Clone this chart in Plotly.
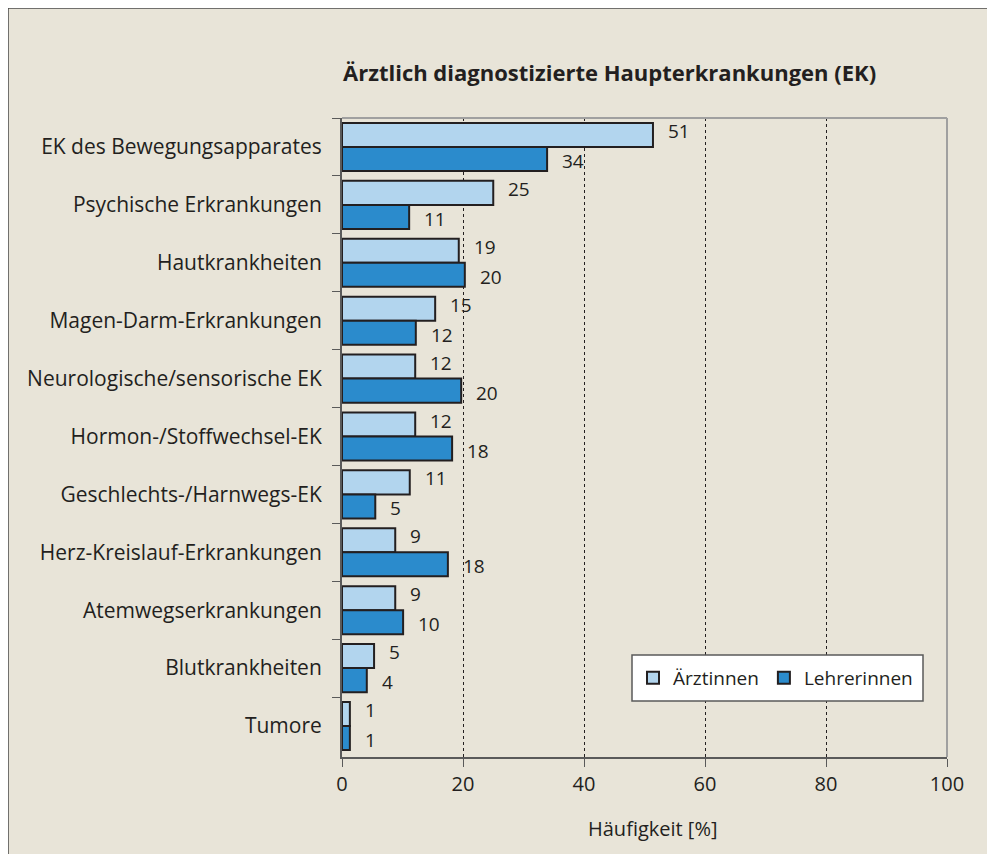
import plotly.graph_objects as go

categories = [
    "EK des Bewegungsapparates",
    "Psychische Erkrankungen",
    "Hautkrankheiten",
    "Magen-Darm-Erkrankungen",
    "Neurologische/sensorische EK",
    "Hormon-/Stoffwechsel-EK",
    "Geschlechts-/Harnwegs-EK",
    "Herz-Kreislauf-Erkrankungen",
    "Atemwegserkrankungen",
    "Blutkrankheiten",
    "Tumore",
]
aerztinnen = [51.4, 25.0, 19.3, 15.4, 12.1, 12.1, 11.2, 8.8, 8.8, 5.3, 1.3]
lehrerinnen = [33.9, 11.1, 20.3, 12.2, 19.7, 18.2, 5.5, 17.5, 10.1, 4.1, 1.3]
aerztinnen_labels = ["51", "25", "19", "15", "12", "12", "11", "9", "9", "5", "1"]
lehrerinnen_labels = ["34", "11", "20", "12", "20", "18", "5", "18", "10", "4", "1"]
x_ticks = [0, 20, 40, 60, 80, 100]

FONT = "'Open Sans', sans-serif"
TXT = "#231f20"
AX = "#5a5a5a"

L, R, T, B = 334, 48, 110, 97
W, H = 987, 846
PW, PH = W - L - R, H - T - B

fig = go.Figure()
fig.add_trace(go.Bar(
    y=categories, x=aerztinnen, orientation="h", name="Ärztinnen",
    marker=dict(color="#b2d5ee", line=dict(color="#231f20", width=2)),
))
fig.add_trace(go.Bar(
    y=categories, x=lehrerinnen, orientation="h", name="Lehrerinnen",
    marker=dict(color="#2b8bcc", line=dict(color="#231f20", width=2)),
))

annotations = []
for c, v, t in zip(categories, aerztinnen, aerztinnen_labels):
    annotations.append(dict(x=v, y=c, xref="x", yref="y", text=t, showarrow=False,
                            xanchor="left", xshift=13, yshift=16,
                            font=dict(size=19, color=TXT, family=FONT)))
for c, v, t in zip(categories, lehrerinnen, lehrerinnen_labels):
    annotations.append(dict(x=v, y=c, xref="x", yref="y", text=t, showarrow=False,
                            xanchor="left", xshift=13, yshift=-14,
                            font=dict(size=19, color=TXT, family=FONT)))

annotations.append(dict(x=(609 - 342) / PW, y=1, xref="paper", yref="paper",
                        yshift=118 - 72, yanchor="middle",
                        text="<b>Ärztlich diagnostizierte Haupterkrankungen (EK)</b>",
                        showarrow=False, font=dict(size=22, color=TXT, family=FONT)))
annotations.append(dict(x=(653 - 342) / PW, y=0, xref="paper", yref="paper",
                        yshift=-(828 - 757), yanchor="middle",
                        text="Häufigkeit [%]",
                        showarrow=False, font=dict(size=20, color=TXT, family=FONT)))
fig.update_layout(annotations=annotations)

# outer frame (left/top border line at the page edge)
fig.add_shape(type="rect", xref="paper", yref="paper",
              x0=-L / PW, x1=1 + (R + 20) / PW, y0=-(B + 20) / PH, y1=1 + T / PH,
              fillcolor="#e8e4d8", line=dict(color="#4a4a4a", width=1.5), layer="below")
# plot area top/right border
fig.add_shape(type="line", xref="paper", yref="paper", x0=0, x1=1, y0=1, y1=1,
              line=dict(color="#a0a0a0", width=2))
fig.add_shape(type="line", xref="paper", yref="paper", x0=1, x1=1, y0=0, y1=1,
              line=dict(color="#a0a0a0", width=2))
# legend box
fig.add_shape(type="rect", xref="paper", yref="paper",
              x0=(632 - 342) / PW, x1=(923 - 342) / PW,
              y0=(757 - 701) / PH, y1=(757 - 655) / PH,
              fillcolor="white", line=dict(color=AX, width=1.5), layer="above")

fig.update_layout(
    width=W, height=H,
    margin=dict(l=L, r=R, t=T, b=B),
    paper_bgcolor="#e8e4d8",
    plot_bgcolor="white",
    barmode="group", bargap=0.17, bargroupgap=0,
    font=dict(family=FONT, color=TXT, size=19),
    showlegend=True,
    legend=dict(orientation="h", x=(633 - 342) / PW, y=(757 - 678) / PH,
                xanchor="left", yanchor="middle",
                bgcolor="rgba(0,0,0,0)", borderwidth=0,
                font=dict(size=19, family=FONT, color=TXT),
                itemsizing="constant", traceorder="normal"),
    xaxis=dict(range=[0, 100], tickvals=x_ticks, ticks="outside", ticklen=8,
               tickcolor=AX, showline=True, linecolor=AX, linewidth=2,
               showgrid=True, gridcolor="#231f20", griddash="dot", gridwidth=1,
               zeroline=False, tickfont=dict(size=20)),
    yaxis=dict(autorange="reversed", type="category", tickson="boundaries",
               ticks="outside", ticklen=8, tickcolor=AX,
               showline=True, linecolor=AX, linewidth=2,
               showgrid=False, tickfont=dict(size=21), ticklabelstandoff=14),
)

fig.write_html("out.html")
